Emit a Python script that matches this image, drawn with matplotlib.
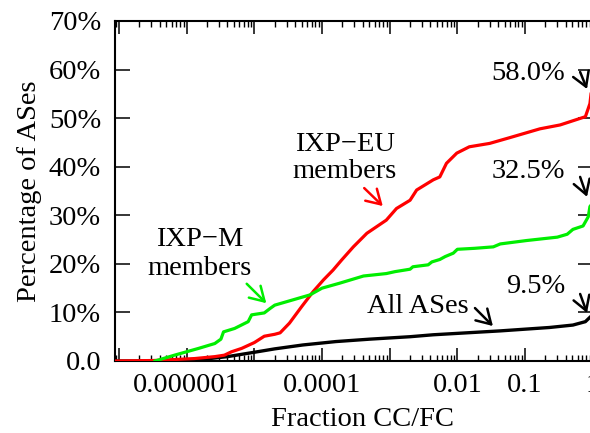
import numpy as np
import matplotlib
matplotlib.use("Agg")
import matplotlib.pyplot as plt
from matplotlib.ticker import FixedLocator, FixedFormatter, LogLocator, NullFormatter

plt.rcParams['font.family'] = ['Liberation Serif', 'DejaVu Serif']
plt.rcParams['font.size'] = 20.5

# fraction CC/FC (x) vs percentage of ASes (y)
eu_x = [8.7e-8, 3.2e-7, 1.3e-6, 2.6e-6, 3.6e-6, 4.6e-6, 6.5e-6, 1.0e-5, 1.4e-5, 2.0e-5,
        2.4e-5, 3.3e-5, 5.0e-5, 7.4e-5, 1.05e-4, 1.45e-4, 1.95e-4, 2.9e-4, 4.6e-4, 8.9e-4,
        1.26e-3, 2.0e-3, 2.5e-3, 4.4e-3, 5.5e-3, 6.9e-3, 9.8e-3, 1.5e-2, 3.0e-2, 6.0e-2,
        0.166, 0.33, 0.78, 0.91, 1.0]
eu_y = [0.0, 0.1, 0.5, 0.9, 1.2, 1.9, 2.6, 3.8, 5.1, 5.5,
        5.8, 7.8, 11.2, 14.3, 16.7, 18.7, 20.8, 23.5, 26.3, 29.0,
        31.4, 33.1, 35.2, 37.3, 37.9, 40.7, 42.8, 44.1, 44.8, 46.0,
        47.8, 48.6, 50.3, 53.0, 58.0]

m_x = [3.4e-7, 6.6e-7, 1.5e-6, 2.6e-6, 3.2e-6, 3.5e-6, 5.1e-6, 8.1e-6, 9.1e-6, 1.4e-5,
       1.7e-5, 2.0e-5, 6.6e-5, 1.0e-4, 1.8e-4, 4.1e-4, 8.9e-4, 1.2e-3, 2.0e-3, 2.2e-3,
       3.7e-3, 4.2e-3, 5.5e-3, 6.6e-3, 8.7e-3, 1.0e-2, 1.8e-2, 3.4e-2, 4.3e-2, 0.105,
       0.30, 0.42, 0.51, 0.72, 0.86, 0.91, 1.0]
m_y = [0.0, 1.2, 2.6, 3.6, 4.5, 6.0, 6.7, 8.1, 9.5, 9.9,
       10.8, 11.5, 13.6, 15.0, 16.0, 17.5, 18.0, 18.4, 18.9, 19.4,
       19.8, 20.4, 20.9, 21.5, 22.2, 23.0, 23.2, 23.5, 24.1, 24.8,
       25.5, 26.1, 27.1, 27.8, 29.7, 31.8, 32.5]

all_x = [8.7e-8, 6.3e-7, 1.6e-6, 4.0e-6, 1.0e-5, 2.0e-5, 5.2e-5, 1.6e-4, 5.1e-4, 2.0e-3,
         4.4e-3, 4.3e-2, 0.23, 0.51, 0.78, 0.91, 1.0]
all_y = [0.0, 0.0, 0.3, 0.9, 1.8, 2.5, 3.3, 4.0, 4.5, 5.0,
         5.4, 6.2, 6.9, 7.4, 8.1, 9.0, 9.5]

xtick_vals = [1e-6, 1e-4, 1e-2, 1e-1, 1]
xtick_labels = ['0.000001', '0.0001', '0.01', '0.1', '1']
ytick_vals = [0, 10, 20, 30, 40, 50, 60, 70]
ytick_labels = ['0.0'] + [f'{v}%' for v in ytick_vals[1:]]

fig = plt.figure(figsize=(5.9, 4.33), dpi=100)
# the original picture is cut just before the right border of the plot
ax = fig.add_axes([115 / 590, 72 / 433, 477.7 / 590, 340 / 433])

ax.plot(all_x, all_y, color='black', lw=2.4, zorder=3)
ax.plot(eu_x, eu_y, color='#ff0000', lw=2.3, zorder=4)
ax.plot(m_x, m_y, color='#00ee00', lw=2.3, zorder=5)

ax.set_xscale('log')
ax.set_xlim(10 ** -7.06, 1)
ax.set_ylim(0, 70)

ax.xaxis.set_major_locator(FixedLocator([10.0 ** k for k in range(-7, 1)]))
ax.xaxis.set_major_formatter(FixedFormatter(
    [xtick_labels[xtick_vals.index(10.0 ** k)] if 10.0 ** k in xtick_vals else ''
     for k in range(-7, 1)]))
ax.xaxis.set_minor_locator(LogLocator(base=10, subs=np.arange(2, 10), numticks=20))
ax.xaxis.set_minor_formatter(NullFormatter())
ax.set_yticks(ytick_vals)
ax.set_yticklabels(ytick_labels)

ax.tick_params(axis='x', which='major', direction='in', top=True, length=9.5, width=1.1, pad=9)
ax.tick_params(axis='x', which='minor', direction='in', top=True, length=4, width=1.0)
ax.tick_params(axis='y', which='major', direction='in', right=True, length=11, width=1.1, pad=10)
for s in ax.spines.values():
    s.set_linewidth(1.5)

ax.set_xlabel('Fraction CC/FC')
ax.xaxis.set_label_coords(0.519, -0.135)
ax.set_ylabel('Percentage of ASes')
ax.yaxis.set_label_coords(-0.152, 0.5)

arrow = dict(arrowstyle='->,head_length=0.5,head_width=0.3', lw=1.8,
             shrinkA=0, shrinkB=0, mutation_scale=20)

ax.text(2.17e-4, 43.2, 'IXP\u2212EU', ha='center', va='baseline')
ax.text(2.17e-4, 37.7, 'members', ha='center', va='baseline')
ax.annotate('', xy=(7.9e-4, 31.9), xytext=(4.2e-4, 35.6),
            arrowprops=dict(arrow, color='#ff0000'))

ax.text(1.56e-6, 23.7, 'IXP\u2212M', ha='center', va='baseline')
ax.text(1.56e-6, 17.7, 'members', ha='center', va='baseline')
ax.annotate('', xy=(1.5e-5, 11.9), xytext=(7.7e-6, 15.9),
            arrowprops=dict(arrow, color='#00ee00'))

ax.text(2.6e-3, 9.9, 'All ASes', ha='center', va='baseline')
ax.annotate('', xy=(0.0335, 7.2), xytext=(0.0182, 10.9),
            arrowprops=dict(arrow, color='black'))

for label, ty, tail, head in [('58.0%', 57.9, 59.5, 56.0),
                              ('32.5%', 37.7, 37.9, 33.8),
                              ('9.5%', 14.0, 13.8, 9.9)]:
    ax.text(0.39, ty, label, ha='right', va='baseline')
    ax.annotate('', xy=(0.824, head), xytext=(0.652, tail),
                arrowprops=dict(arrow, color='black'))

fig.savefig('out.png', dpi=100)
